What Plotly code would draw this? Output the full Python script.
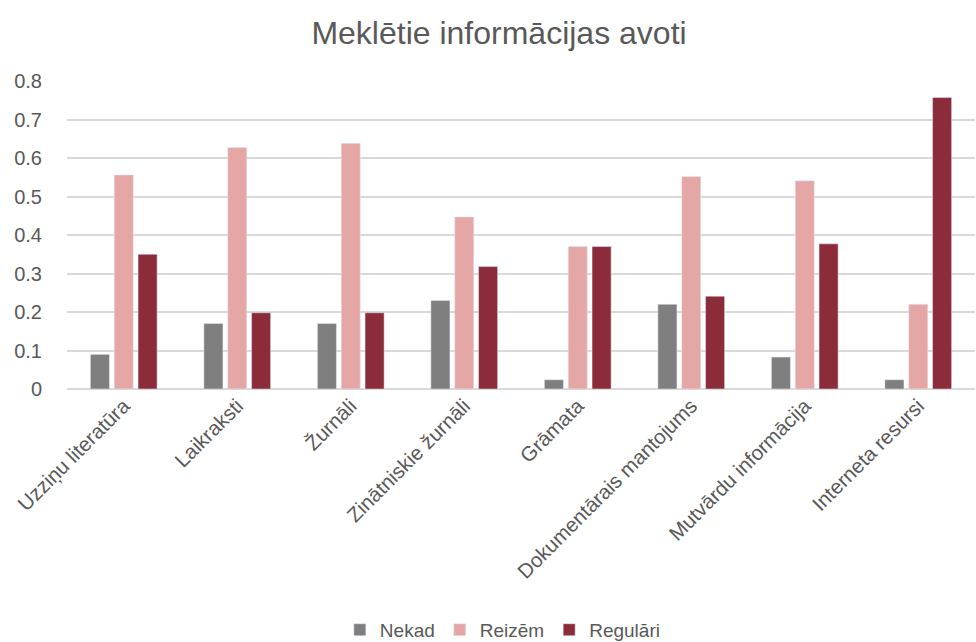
import plotly.graph_objects as go

categories = ["Uzziņu literatūra", "Laikraksti", "Žurnāli", "Zinātniskie žurnāli",
              "Grāmata", "Dokumentārais mantojums", "Mutvārdu informācija", "Interneta resursi"]
nekad = [0.09, 0.17, 0.17, 0.23, 0.024, 0.22, 0.083, 0.024]
reizem = [0.556, 0.627, 0.638, 0.447, 0.37, 0.552, 0.541, 0.22]
regulari = [0.35, 0.198, 0.198, 0.318, 0.37, 0.241, 0.377, 0.757]

FONT = "Liberation Sans, Arial, sans-serif"
GREY = "#595959"

fig = go.Figure()
fig.add_bar(name="Nekad", x=categories, y=nekad, marker_color="#7f7f7f")
fig.add_bar(name="Reizēm", x=categories, y=reizem, marker_color="#e5a6a6")
fig.add_bar(name="Regulāri", x=categories, y=regulari, marker_color="#8c2c3b")

fig.update_layout(
    width=976, height=642,
    paper_bgcolor="white", plot_bgcolor="white",
    margin=dict(l=67, r=1, t=81, b=253, autoexpand=False),
    title=dict(text="Meklētie informācijas avoti", x=499 / 976, xanchor="center",
               xref="container", yref="container", y=1 - 33 / 642, yanchor="middle",
               font=dict(family=FONT, size=32, color=GREY)),
    font=dict(family=FONT, color=GREY, size=19),
    barmode="group", bargap=0.37, bargroupgap=0.2,
    legend=dict(orientation="h", x=0.48, xanchor="center", y=-0.782, yanchor="middle",
                font=dict(family=FONT, size=19, color=GREY), itemwidth=30,
                traceorder="normal"),
    xaxis=dict(tickangle=-45, showgrid=False, ticks="", showline=False, automargin=False,
               tickfont=dict(family=FONT, size=20.5, color=GREY)),
    yaxis=dict(range=[0, 0.8], dtick=0.1, showgrid=True, automargin=False,
               gridcolor="#d9d9d9", gridwidth=1.5, zeroline=True, zerolinecolor="#d9d9d9",
               zerolinewidth=1.5, ticks="", ticklabelstandoff=24,
               tickfont=dict(family=FONT, size=20, color=GREY)),
)

fig.write_html("out.html", config={"displayModeBar": False},
               post_script="document.body.style.margin='0';document.body.style.padding='0';")
